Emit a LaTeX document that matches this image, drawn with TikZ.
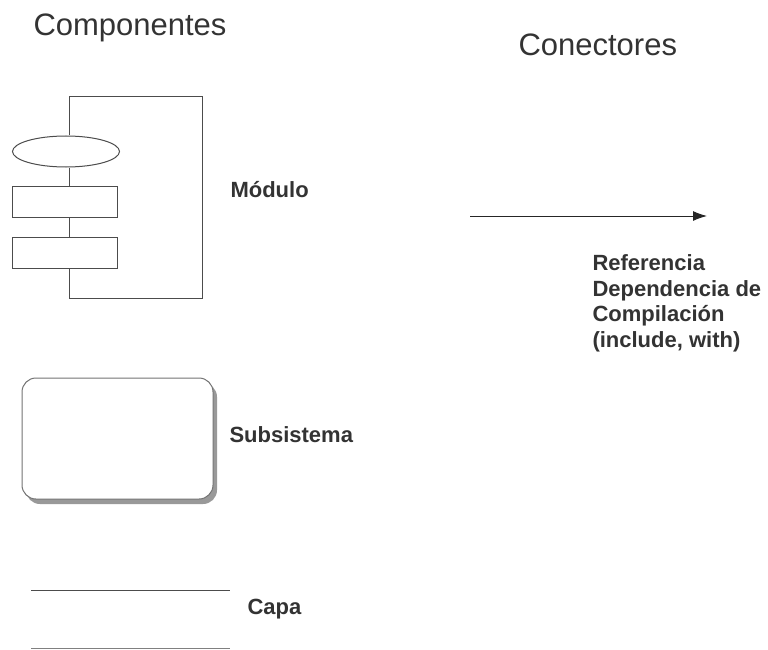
\documentclass[tikz,border=0pt]{standalone}
\usepackage{fontspec}
\setmainfont{Liberation Sans}
\usetikzlibrary{shapes.geometric,shadows,arrows.meta}

\begin{document}
\begin{tikzpicture}[x=1pt, y=-1pt, line width=1pt,
    title/.style={anchor=base west, inner sep=0pt, font=\fontsize{31}{36}\selectfont, text=black!80},
    lbl/.style={anchor=base west, inner sep=0pt, font=\bfseries\fontsize{22}{25.7}\selectfont, text=black!80},
    part/.style={draw=black!70, fill=white, inner sep=0pt, minimum width=105, minimum height=31}]
    \useasboundingbox (0,0) rectangle (768,650);

    % Titles
    \node[title] (comp) at (33,36) {Componentes};
    \node[title] (conn) at (518,56) {Conectores};

    % Module
    \node[part, ellipse, minimum width=107, minimum height=31] (ell) at (66,151.5) {};
    \node[part] (rect1) at (64.5,202) {};
    \node[part] (rect2) at (64.5,252.5) {};
    \coordinate (mtl) at (69,97);
    \coordinate (mbr) at (202,298);
    \draw[black!70] (mtl |- ell.north) -- (mtl) -| (mbr) -| (mtl |- rect2.south);
    \draw[black!70] (mtl |- ell.south) -- (mtl |- rect1.north);
    \draw[black!70] (mtl |- rect1.south) -- (mtl |- rect2.north);
    \node[lbl] (modl) at (230,197) {Módulo};

    % Subsystem
    \node[draw=black!55, fill=white, rounded corners=14pt, minimum width=191, minimum height=121,
        drop shadow={shadow xshift=4pt, shadow yshift=-5pt, fill=black!40, opacity=1}] (sub) at (117.5,438.5) {};
    \node[lbl] (subl) at (229,442) {Subsistema};

    % Layer
    \coordinate (c1a) at (31,590);
    \coordinate (c1b) at (230,590);
    \coordinate (c2a) at (31,648);
    \coordinate (c2b) at (230,648);
    \draw[black!70] (c1a) -- (c1b);
    \draw[black!50] (c2a) -- (c2b);
    \node[lbl] (capa) at (247,614) {Capa};

    % Reference arrow
    \coordinate (a0) at (470,216);
    \coordinate (a1) at (707,216);
    \draw[black!85, -{Latex[length=14pt,width=10pt]}] (a0) -- (a1);
    \node[lbl, anchor=north west, align=left] (ref) at (592,254) {Referencia\\Dependencia de\\Compilación\\(include, with)};
\end{tikzpicture}
\end{document}
